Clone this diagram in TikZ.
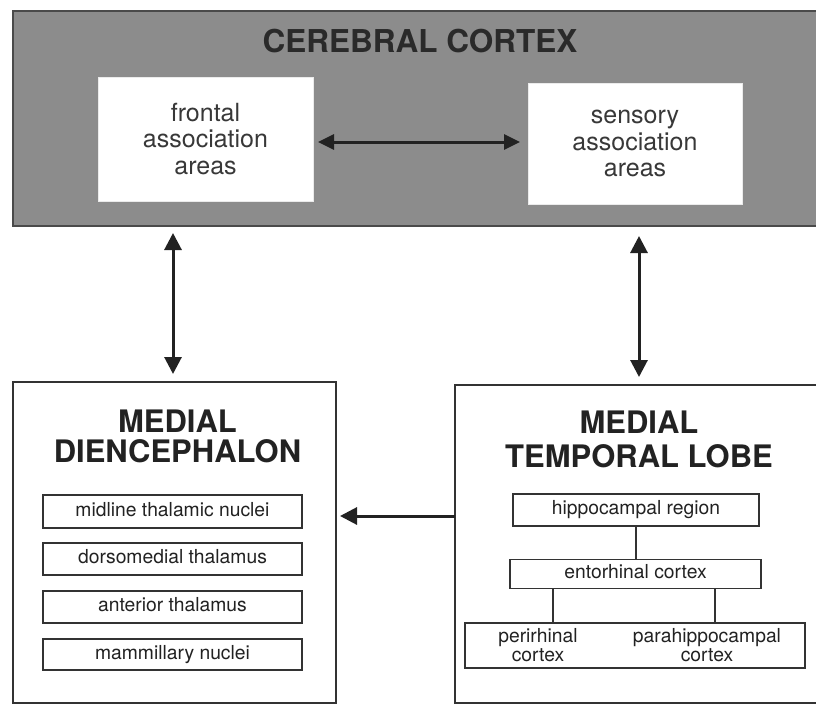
\documentclass[tikz,border=0pt]{standalone}
\usepackage{fontspec}
\setmainfont{TeX Gyre Heros}
\usetikzlibrary{arrows.meta,calc}
\definecolor{ink}{HTML}{222222}
\definecolor{titleink}{HTML}{2A2A2A}
\definecolor{cortexgray}{HTML}{8C8C8C}
\definecolor{cortexborder}{HTML}{4A4A4A}
\definecolor{boxline}{HTML}{333333}
\begin{document}
\begin{tikzpicture}[x=1pt,y=-1pt,
  every node/.style={inner sep=0pt, outer sep=0pt, text=ink},
  bigtitle/.style={font=\fontsize{31}{30}\selectfont\bfseries, align=center},
  areabox/.style={fill=white, draw=white!92!black, line width=0.6pt,
    font=\fontsize{25}{26.5}\selectfont, align=center, text=ink!90!white},
  regionbox/.style={draw=boxline, line width=1.5pt, fill=white},
  subbox/.style={draw=boxline, line width=1.3pt, fill=white,
    font=\fontsize{19.3}{19}\selectfont, text height=13.5pt, text depth=4pt},
  dbl/.style={draw=ink, line width=3pt, {Triangle[width=17pt,length=17pt]}-{Triangle[width=17pt,length=17pt]}},
  sgl/.style={draw=ink, line width=3pt, -{Triangle[width=17pt,length=17pt]}},
  link/.style={draw=boxline, line width=2.3pt}
]
\useasboundingbox (0,0) rectangle (816,706);
\clip (0,0) rectangle (816,706);

% Cerebral cortex
\node[fill=cortexgray, draw=cortexborder, line width=1.6pt,
  minimum width=817pt, minimum height=215pt] (cortex) at (421.5,118.5) {};
\node[font=\fontsize{31.5}{32}\selectfont\bfseries, text=titleink] (ctitle) at (420,41.5) {CEREBRAL CORTEX};
\node[areabox, minimum width=215pt, minimum height=124pt] (frontal) at (205.5,139) {frontal\\association\\areas};
\node[areabox, minimum width=214pt, minimum height=121pt] (sensory) at (635,143.5) {sensory\\association\\areas};
\coordinate (hy) at (0,142);
\draw[dbl, {Triangle[width=15pt,length=16pt]}-{Triangle[width=15pt,length=16pt]}, shorten <=5pt, shorten >=8pt]
  (frontal.east |- hy) -- (sensory.west |- hy);

% Medial diencephalon
\node[regionbox, minimum width=323pt, minimum height=321pt] (dien) at (174.5,542.5) {};
\node[bigtitle, font=\fontsize{31}{30}\selectfont\bfseries] (dtitle) at (177.5,436.5) {MEDIAL\\DIENCEPHALON};
\node[subbox, minimum width=259pt, minimum height=33pt] (midline) at (172.5,511.5) {midline thalamic nuclei};
\node[subbox, minimum width=259pt, minimum height=32pt] (dorso) at (172.5,559) {dorsomedial thalamus};
\node[subbox, minimum width=259pt, minimum height=32pt] (anterior) at (172.5,607) {anterior thalamus};
\node[subbox, minimum width=259pt, minimum height=31pt] (mammi) at (172.5,654.5) {mammillary nuclei};

% Medial temporal lobe
\node[regionbox, minimum width=375pt, minimum height=318pt] (mtl) at (642.5,544) {};
\node[bigtitle, font=\fontsize{31}{34}\selectfont\bfseries] (mtitle) at (639,439) {MEDIAL\\TEMPORAL LOBE};
\node[subbox, minimum width=246pt, minimum height=32pt] (hippo) at (636,510) {hippocampal region};
\node[subbox, minimum width=251pt, minimum height=29pt] (ento) at (635.5,574) {entorhinal cortex};
\node[draw=boxline, line width=1.3pt, fill=white, minimum width=340pt, minimum height=45pt] (bottom) at (635,645.5) {};
\node[font=\fontsize{19.3}{19}\selectfont, align=center] (peri) at (538,645) {perirhinal\\cortex};
\node[font=\fontsize{19.3}{19}\selectfont, align=center] (para) at (707,645) {parahippocampal\\cortex};

\coordinate (lx0) at (636,0);
\coordinate (lx1) at (553,0);
\coordinate (lx2) at (715,0);
\draw[link] (hippo.south -| lx0) -- (ento.north -| lx0);
\draw[link] (ento.south -| lx1) -- (bottom.north -| lx1);
\draw[link] (ento.south -| lx2) -- (bottom.north -| lx2);

% Connections between regions
\coordinate (vx1) at (173,0);
\coordinate (vx2) at (639,0);
\draw[dbl, shorten <=7pt, shorten >=8pt] (cortex.south -| vx1) -- (dien.north -| vx1);
\draw[dbl, shorten <=10pt, shorten >=8pt] (cortex.south -| vx2) -- (mtl.north -| vx2);
\coordinate (ay) at (0,516);
\draw[sgl, shorten >=4pt] (mtl.west |- ay) -- (dien.east |- ay);
\end{tikzpicture}
\end{document}
